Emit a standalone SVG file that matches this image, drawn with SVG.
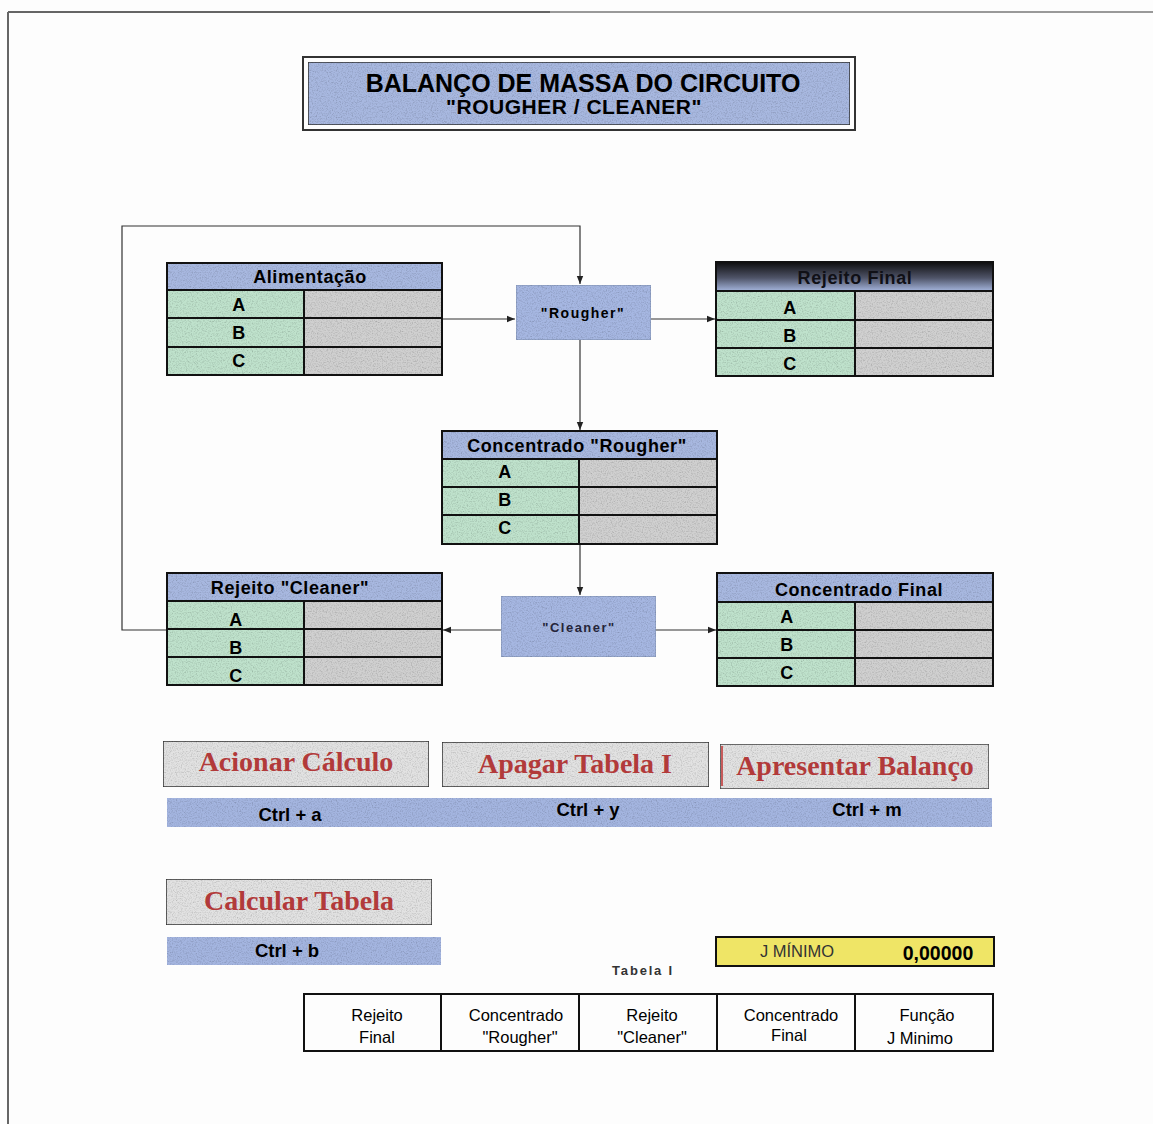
<svg xmlns="http://www.w3.org/2000/svg" width="1153" height="1124" viewBox="0 0 1153 1124">
  <defs>
    <filter id="grain" x="0" y="0" width="100%" height="100%">
      <feTurbulence type="fractalNoise" baseFrequency="0.8" numOctaves="2" seed="4" result="n"/>
      <feColorMatrix in="n" type="saturate" values="0" result="g"/>
      <feComponentTransfer in="g" result="g2">
        <feFuncR type="linear" slope="1.0" intercept="0.45"/>
        <feFuncG type="linear" slope="1.0" intercept="0.45"/>
        <feFuncB type="linear" slope="1.0" intercept="0.45"/>
        <feFuncA type="linear" slope="0" intercept="1"/>
      </feComponentTransfer>
      <feBlend in="SourceGraphic" in2="g2" mode="multiply" result="b"/>
      <feComposite in="b" in2="SourceGraphic" operator="in"/>
    </filter>
    <linearGradient id="darkHead" x1="0" y1="0" x2="0" y2="1">
      <stop offset="0" stop-color="#0d0d0d"/>
      <stop offset="0.55" stop-color="#4f5468"/>
      <stop offset="1" stop-color="#a4b4dc"/>
    </linearGradient>
    <marker id="arr" viewBox="0 0 10 10" refX="10" refY="5" markerWidth="8" markerHeight="8" markerUnits="userSpaceOnUse" orient="auto">
      <path d="M0,1 L10,5 L0,9 z" fill="#222"/>
    </marker>
  </defs>
  <style>
    .head { fill: #a8b8e0; filter: url(#grain); }
    .grn { fill: #bfe2cc; filter: url(#grain); }
    .gry { fill: #d0d0d0; filter: url(#grain); }
    .proc { fill: #a6b7e2; filter: url(#grain); stroke: #7f8fae; stroke-width: 1; }
    .band { fill: #a4b5e0; filter: url(#grain); }
    .btn { fill: #e2e2e2; filter: url(#grain); }
    .grid { fill: none; stroke: #111; stroke-width: 2; }
    .ln { fill: none; stroke: #333; stroke-width: 1.2; }
    .t { font-family: "Liberation Sans", Arial, sans-serif; font-weight: bold; fill: #000; text-anchor: middle; }
    .hd { font-size: 18px; letter-spacing: 0.6px; }
    .btnt { font-family: "Liberation Serif", "Times New Roman", serif; font-weight: bold; fill: #b23a3a; text-anchor: middle; font-size: 28px; }
    .n { font-family: "Liberation Sans", Arial, sans-serif; fill: #000; text-anchor: middle; font-size: 16.5px; }
  </style>

  <rect x="0" y="0" width="1153" height="1124" fill="#fdfdfd"/>
  <!-- sheet frame -->
  <line x1="8" y1="12" x2="1153" y2="12" stroke="#777" stroke-width="1.5"/>
  <line x1="8" y1="12" x2="550" y2="12" stroke="#333" stroke-width="1"/>
  <line x1="8" y1="12" x2="8" y2="1124" stroke="#666" stroke-width="2"/>

  <!-- title -->
  <g id="title">
    <rect x="303" y="57" width="552" height="73" fill="none" stroke="#333" stroke-width="2"/>
    <rect x="308" y="62" width="542" height="63" class="head" stroke="#333" stroke-width="1.5"/>
    <text x="583" y="92" class="t" font-size="25">BALANÇO DE MASSA DO CIRCUITO</text>
    <text x="574" y="114" class="t" font-size="21" letter-spacing="0.5">"ROUGHER / CLEANER"</text>
  </g>

  <!-- connectors -->
  <g id="connectors">
    <polyline class="ln" points="167,630 122,630 122,226 580,226 580,284" marker-end="url(#arr)"/>
    <line class="ln" x1="442" y1="319" x2="515" y2="319" marker-end="url(#arr)"/>
    <line class="ln" x1="651" y1="319" x2="715" y2="319" marker-end="url(#arr)"/>
    <line class="ln" x1="580" y1="340" x2="580" y2="430" marker-end="url(#arr)"/>
    <line class="ln" x1="580" y1="544" x2="580" y2="595" marker-end="url(#arr)"/>
    <line class="ln" x1="501" y1="630" x2="443" y2="630" marker-end="url(#arr)"/>
    <line class="ln" x1="656" y1="630" x2="716" y2="630" marker-end="url(#arr)"/>
  </g>

  <!-- feed table -->
  <g id="alimentacao">
    <rect x="167" y="263" width="275" height="27" class="head"/>
    <rect x="167" y="290" width="137" height="85" class="grn"/>
    <rect x="304" y="290" width="138" height="85" class="gry"/>
    <rect x="167" y="263" width="275" height="112" class="grid"/>
    <path class="grid" d="M167,290 H442 M167,318 H442 M167,347 H442 M304,290 V375"/>
    <text x="310" y="283" class="t hd">Alimentação</text>
    <text x="239" y="311" class="t hd">A</text>
    <text x="239" y="339" class="t hd">B</text>
    <text x="239" y="367" class="t hd">C</text>
  </g>

  <!-- rougher cell -->
  <g id="rougher">
    <rect x="516" y="285" width="135" height="55" class="proc"/>
    <text x="583" y="318" class="t" font-size="14" letter-spacing="1.5">"Rougher"</text>
  </g>

  <!-- final tailings table -->
  <g id="rejeito-final">
    <rect x="716" y="262" width="277" height="29" fill="url(#darkHead)"/>
    <rect x="716" y="291" width="139" height="85" class="grn"/>
    <rect x="855" y="291" width="138" height="85" class="gry"/>
    <rect x="716" y="262" width="277" height="114" class="grid"/>
    <path class="grid" d="M716,291 H993 M716,320 H993 M716,348 H993 M855,291 V376"/>
    <text x="855" y="284" class="t hd" style="fill:#101016">Rejeito Final</text>
    <text x="790" y="314" class="t hd">A</text>
    <text x="790" y="342" class="t hd">B</text>
    <text x="790" y="370" class="t hd">C</text>
  </g>

  <!-- rougher concentrate table -->
  <g id="concentrado-rougher">
    <rect x="442" y="431" width="275" height="28" class="head"/>
    <rect x="442" y="459" width="137" height="85" class="grn"/>
    <rect x="579" y="459" width="138" height="85" class="gry"/>
    <rect x="442" y="431" width="275" height="113" class="grid"/>
    <path class="grid" d="M442,459 H717 M442,487 H717 M442,515 H717 M579,459 V544"/>
    <text x="577" y="452" class="t hd">Concentrado "Rougher"</text>
    <text x="505" y="478" class="t hd">A</text>
    <text x="505" y="506" class="t hd">B</text>
    <text x="505" y="534" class="t hd">C</text>
  </g>

  <!-- cleaner cell -->
  <g id="cleaner">
    <rect x="501" y="596" width="155" height="61" class="proc"/>
    <text x="579" y="632" class="t" font-size="13" letter-spacing="1.5" style="fill:#25253a">"Cleaner"</text>
  </g>

  <!-- cleaner tailings table -->
  <g id="rejeito-cleaner">
    <rect x="167" y="573" width="275" height="28" class="head"/>
    <rect x="167" y="601" width="137" height="84" class="grn"/>
    <rect x="304" y="601" width="138" height="84" class="gry"/>
    <rect x="167" y="573" width="275" height="112" class="grid"/>
    <path class="grid" d="M167,601 H442 M167,629 H442 M167,657 H442 M304,601 V685"/>
    <text x="290" y="594" class="t hd">Rejeito "Cleaner"</text>
    <text x="236" y="626" class="t hd">A</text>
    <text x="236" y="654" class="t hd">B</text>
    <text x="236" y="682" class="t hd">C</text>
  </g>

  <!-- final concentrate table -->
  <g id="concentrado-final">
    <rect x="717" y="573" width="276" height="29" class="head"/>
    <rect x="717" y="602" width="138" height="84" class="grn"/>
    <rect x="855" y="602" width="138" height="84" class="gry"/>
    <rect x="717" y="573" width="276" height="113" class="grid"/>
    <path class="grid" d="M717,602 H993 M717,630 H993 M717,658 H993 M855,602 V686"/>
    <text x="859" y="596" class="t hd">Concentrado Final</text>
    <text x="787" y="623" class="t hd">A</text>
    <text x="787" y="651" class="t hd">B</text>
    <text x="787" y="679" class="t hd">C</text>
  </g>

  <!-- macro buttons -->
  <g id="btn-acionar">
    <rect x="163" y="741" width="266" height="46" class="btn" stroke="#333" stroke-width="1.5"/>
    <text x="296" y="771" class="btnt">Acionar Cálculo</text>
  </g>
  <g id="btn-apagar">
    <rect x="442" y="742" width="267" height="45" class="btn" stroke="#333" stroke-width="1.5"/>
    <text x="575" y="773" class="btnt">Apagar Tabela I</text>
  </g>
  <g id="btn-apresentar">
    <rect x="720" y="744" width="269" height="45" class="btn" stroke="#444" stroke-width="1.5"/>
    <line x1="722" y1="746" x2="722" y2="786" stroke="#c03030" stroke-width="1.5"/>
    <text x="855" y="775" class="btnt">Apresentar Balanço</text>
  </g>

  <g id="atalhos">
    <rect x="167" y="798" width="825" height="29" class="band"/>
    <text x="290" y="821" class="t" font-size="18.5">Ctrl + a</text>
    <text x="588" y="816" class="t" font-size="18.5">Ctrl + y</text>
    <text x="867" y="816" class="t" font-size="18.5">Ctrl + m</text>
  </g>

  <g id="btn-calcular">
    <rect x="166" y="879" width="266" height="46" class="btn" stroke="#333" stroke-width="1.5"/>
    <text x="299" y="910" class="btnt">Calcular Tabela</text>
  </g>
  <g id="atalho-b">
    <rect x="167" y="937" width="274" height="28" class="band"/>
    <text x="287" y="957" class="t" font-size="18.5">Ctrl + b</text>
  </g>

  <!-- objective value -->
  <g id="j-minimo">
    <rect x="716" y="937" width="278" height="29" fill="#efe566" stroke="#111" stroke-width="2"/>
    <text x="797" y="957" class="n" font-size="16" style="fill:#333">J MÍNIMO</text>
    <text x="938" y="960" class="t" font-size="19.5">0,00000</text>
  </g>

  <!-- Tabela I -->
  <g id="tabela-i">
    <text x="643" y="975" class="t" font-size="13" letter-spacing="1.8" style="fill:#333">Tabela I</text>
    <rect x="304" y="994" width="689" height="57" class="grid" fill="#fff"/>
    <path class="grid" d="M441,994 V1051 M579,994 V1051 M717,994 V1051 M855,994 V1051"/>
    <text x="377" y="1021" class="n">Rejeito</text>
    <text x="377" y="1043" class="n">Final</text>
    <text x="516" y="1021" class="n">Concentrado</text>
    <text x="520" y="1043" class="n">"Rougher"</text>
    <text x="652" y="1021" class="n">Rejeito</text>
    <text x="652" y="1043" class="n">"Cleaner"</text>
    <text x="791" y="1021" class="n">Concentrado</text>
    <text x="789" y="1041" class="n">Final</text>
    <text x="927" y="1021" class="n">Função</text>
    <text x="920" y="1044" class="n">J Minimo</text>
  </g>
</svg>
